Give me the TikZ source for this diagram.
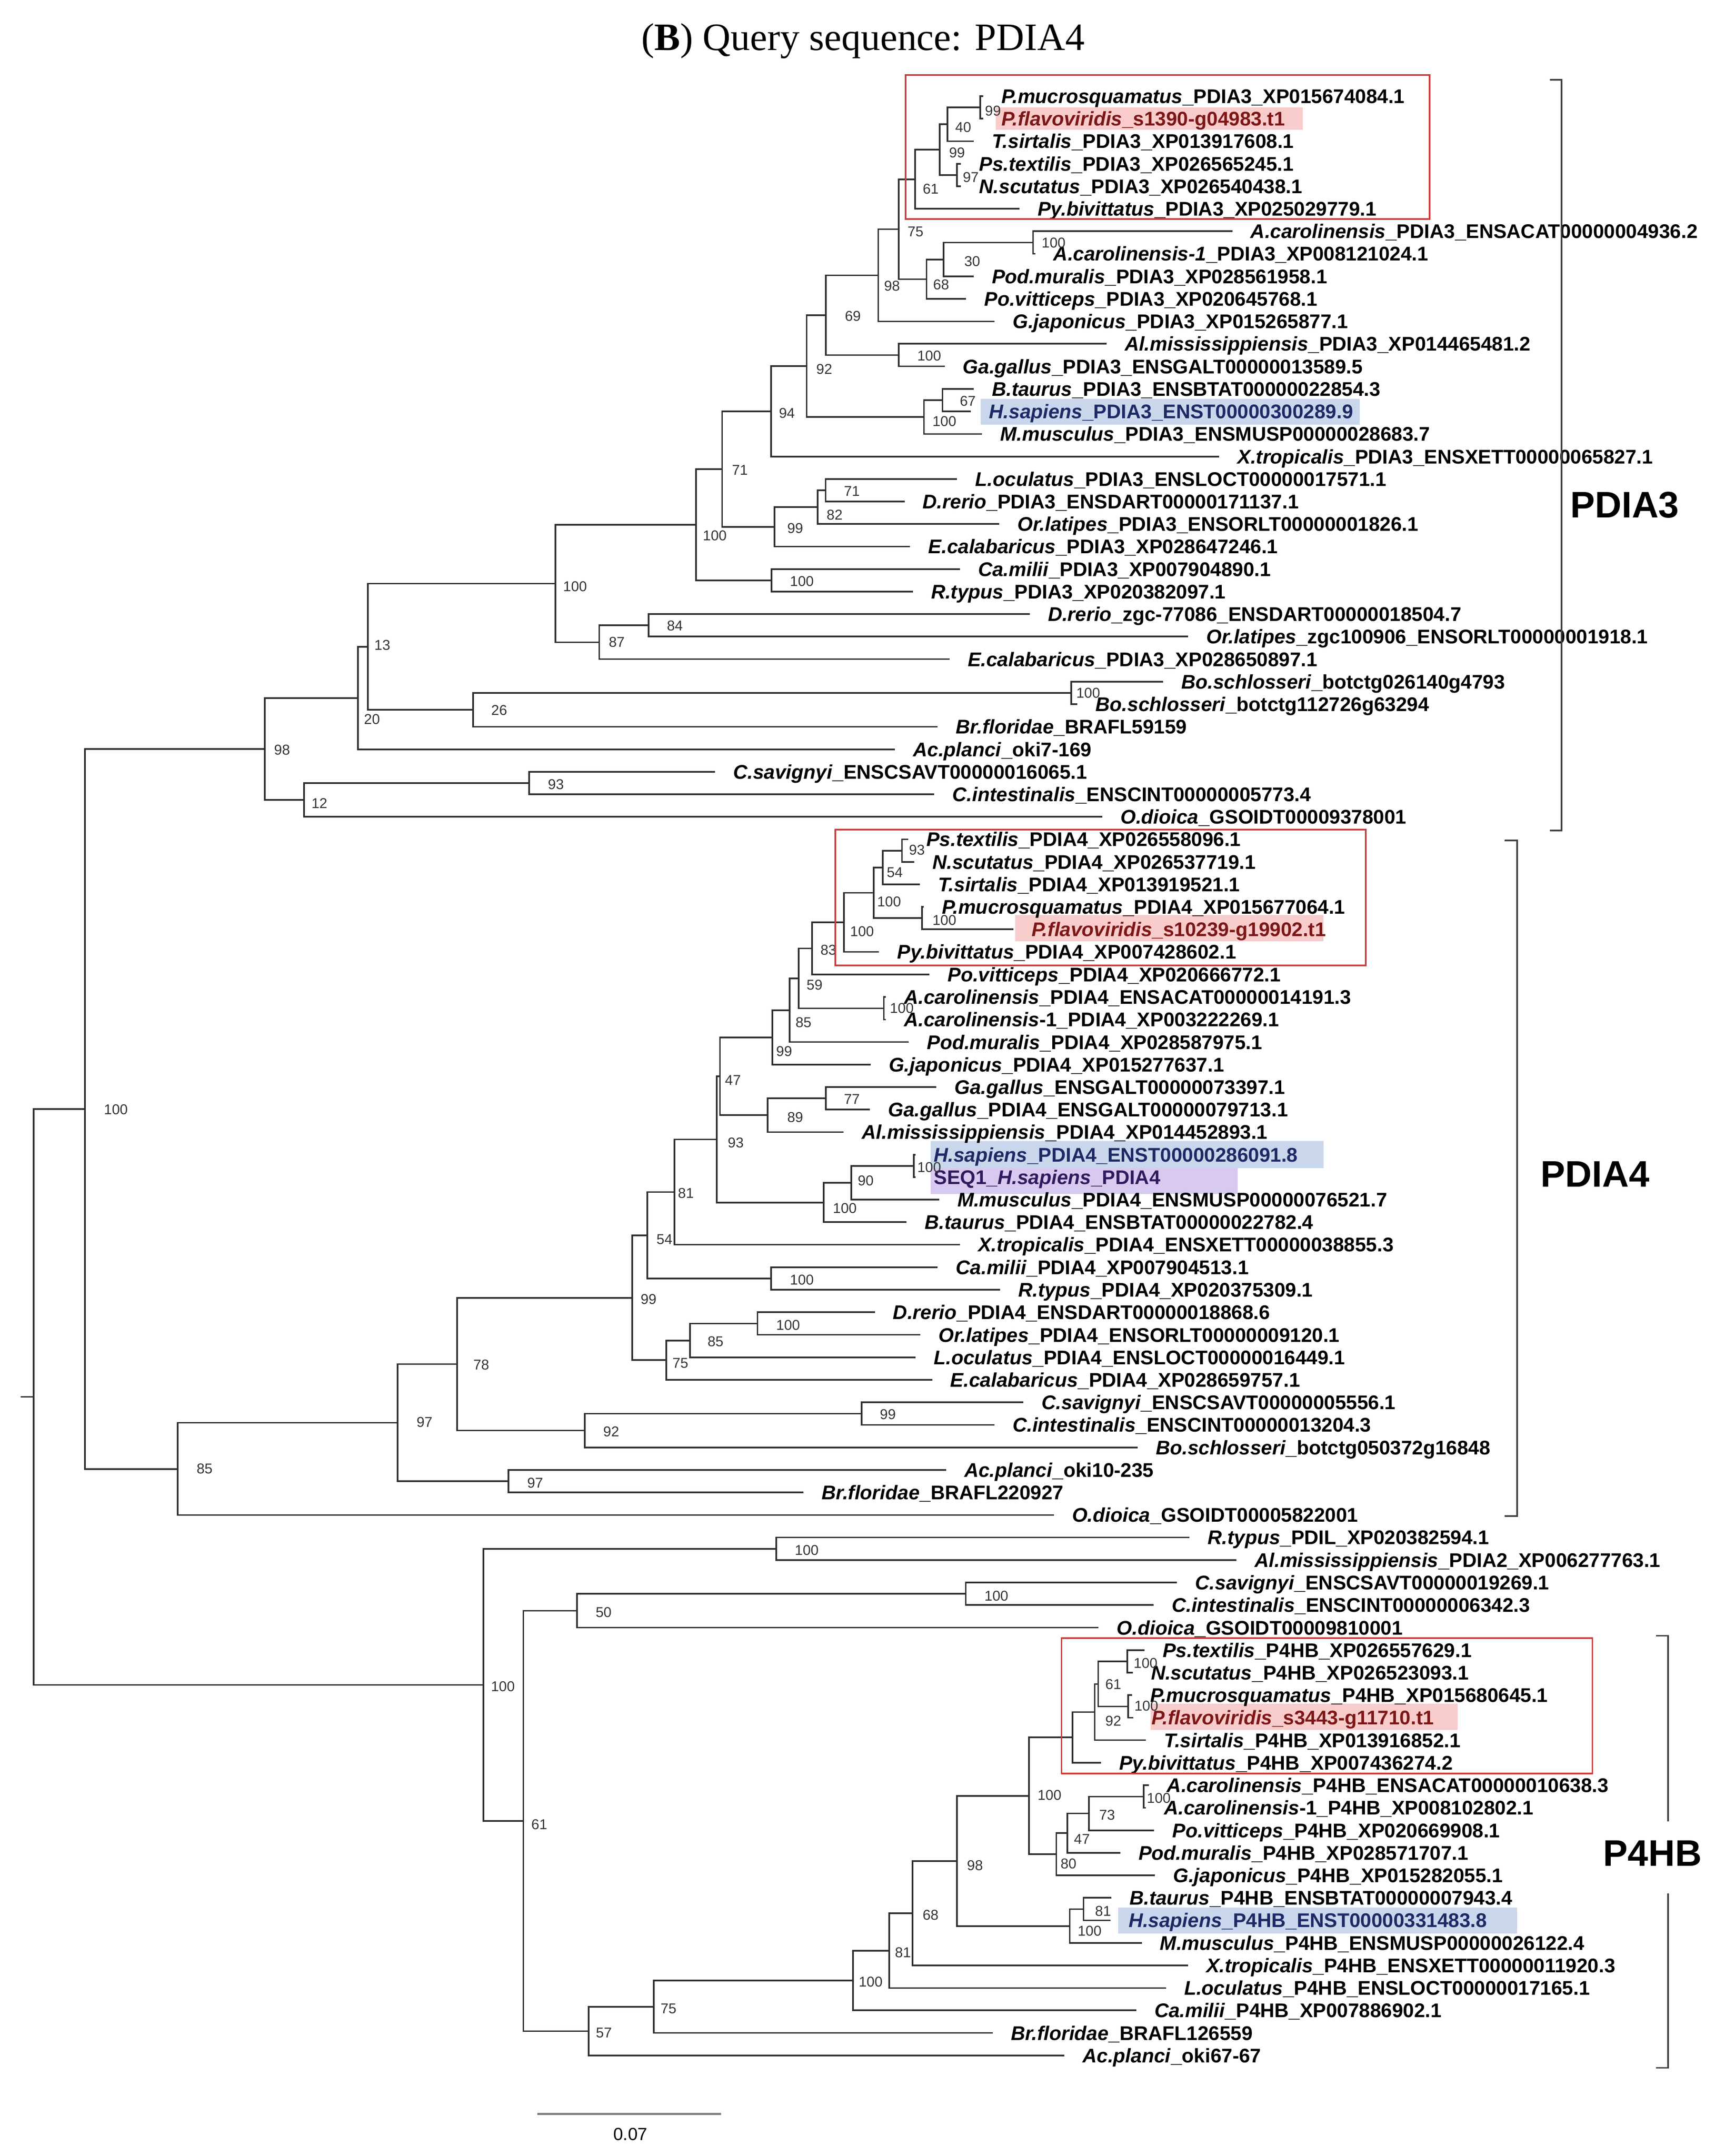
\documentclass[tikz,border=0pt]{standalone}
\usepackage{fontspec}
\setmainfont{Liberation Sans}
\newfontfamily\titlefont{Liberation Serif}
\newcommand{\taxon}[1]{\textit{#1}}

\definecolor{pinkhl}{RGB}{249,204,204}
\definecolor{bluehl}{RGB}{201,214,236}
\definecolor{purplehl}{RGB}{216,201,240}
\definecolor{flavored}{RGB}{125,22,22}
\definecolor{sapblue}{RGB}{28,42,100}
\definecolor{seqpurple}{RGB}{48,26,92}
\definecolor{boxred}{RGB}{208,58,58}

\tikzset{
  branch/.style={draw=black!82, line width=1.15pt},
  leaf/.style={anchor=west, xshift=13pt, inner sep=0pt, text height=10.25pt, text depth=0pt,
    font=\fontsize{14.3}{16}\selectfont\bfseries},
  boot/.style={anchor=west, inner sep=0pt, text height=7.4pt, text depth=0pt, text=black!80,
    font=\fontsize{10.3}{12}\selectfont},
  clade/.style={inner sep=0pt, text height=19.1pt, text depth=0pt,
    font=\fontsize{26.7}{30}\selectfont\bfseries},
  redbox/.style={draw=boxred, line width=1.2pt},
  bracket/.style={draw=black!75, line width=1.2pt},
}

\begin{document}
\begin{tikzpicture}[x=1pt,y=-1pt]
\useasboundingbox (0,0) rectangle (1247,1559);

\node[inner sep=0pt, text height=18.5pt, text depth=0pt, font=\titlefont\fontsize{28}{32}\selectfont] (title) at (624,27) {(\textbf{B}) Query sequence: PDIA4};

% highlights behind the names
\fill[pinkhl] (720,77.6) rectangle (941.8,94);
\fill[bluehl] (709,288.5) rectangle (983,307);
\fill[pinkhl] (734,661.5) rectangle (956.8,680.5);
\fill[bluehl] (673,825) rectangle (956.8,844.6);
\fill[purplehl] (673,844.6) rectangle (895,863.4);
\fill[pinkhl] (832,1232) rectangle (1053.8,1251);
\fill[bluehl] (808.6,1379.5) rectangle (1096.8,1398);

% inner nodes, PDIA3
\coordinate (n99c) at (708.7,77.7);
\coordinate (n40) at (685,89.9);
\coordinate (n97a) at (691.9,126.5);
\coordinate (n99b) at (679.5,108.2);
\coordinate (n61a) at (661.6,129.6);
\coordinate (n100f) at (746.9,175.4);
\coordinate (n30) at (682.3,187.6);
\coordinate (n68a) at (669.9,201.9);
\coordinate (n75a) at (649.8,165.7);
\coordinate (n98b) at (635,199.1);
\coordinate (n100g) at (649.8,256.8);
\coordinate (n69) at (597,228.0);
\coordinate (n67) at (681.4,289.4);
\coordinate (n100h) at (668,301.6);
\coordinate (n92a) at (583.2,264.8);
\coordinate (n94) at (557.5,297.5);
\coordinate (n71b) at (596.9,354.5);
\coordinate (n82) at (591.2,366.7);
\coordinate (n99a) at (560,381.0);
\coordinate (n71a) at (522.1,339.2);
\coordinate (n100d) at (557.9,419.7);
\coordinate (n100c) at (503.3,379.5);
\coordinate (n84) at (469,452.2);
\coordinate (n87) at (433.2,464.4);
\coordinate (n100b) at (401.7,422.0);
\coordinate (n100e) at (774.5,501.1);
\coordinate (n26) at (342,513.3);
\coordinate (n13) at (265.9,467.6);
\coordinate (n20) at (258.7,504.7);
\coordinate (n93a) at (382.6,566.2);
\coordinate (n12) at (219.8,578.4);
\coordinate (n98a) at (191.4,541.6);

% inner nodes, PDIA4
\coordinate (n93b) at (652.1,615.1);
\coordinate (n54a) at (638.3,627.3);
\coordinate (n100j) at (666.6,663.9);
\coordinate (n100i) at (631.6,645.6);
\coordinate (n100k) at (610.2,667.0);
\coordinate (n83) at (587.1,685.8);
\coordinate (n100l) at (639,729.1);
\coordinate (n59) at (577.5,707.5);
\coordinate (n85a) at (570.9,730.5);
\coordinate (n99d) at (558.4,750.2);
\coordinate (n77) at (597,794.2);
\coordinate (n89) at (555,806.4);
\coordinate (n47a) at (520.5,778.3);
\coordinate (n100n) at (660.6,843.1);
\coordinate (n90) at (615.4,855.3);
\coordinate (n100m) at (595.6,869.5);
\coordinate (n93c) at (518.3,823.9);
\coordinate (n81a) at (487.7,862.0);
\coordinate (n100o) at (557.6,924.5);
\coordinate (n54b) at (467.9,893.2);
\coordinate (n100p) at (547.7,957.1);
\coordinate (n85b) at (498.9,969.3);
\coordinate (n75b) at (481.7,983.5);
\coordinate (n99e) at (457,938.4);
\coordinate (n99f) at (623,1022.2);
\coordinate (n92b) at (422.8,1034.4);
\coordinate (n78) at (330.4,986.4);
\coordinate (n97c) at (367.7,1071.1);
\coordinate (n97b) at (287.4,1028.8);
\coordinate (n85c) at (128.4,1062.2);
\coordinate (n100a) at (61.4,801.9);

% inner nodes, P4HB side
\coordinate (n100r) at (561.2,1119.9);
\coordinate (n100s) at (698.3,1152.5);
\coordinate (n50) at (417.2,1164.7);
\coordinate (n100w) at (815,1201.4);
\coordinate (n100x) at (815.6,1233.9);
\coordinate (n61c) at (794,1217.7);
\coordinate (n92c) at (791.5,1238.0);
\coordinate (nsnk) at (775.4,1256.3);
\coordinate (n100y) at (826.8,1299.1);
\coordinate (n73) at (787.2,1311.3);
\coordinate (n47b) at (771.6,1325.5);
\coordinate (n80) at (763.7,1340.8);
\coordinate (n100u) at (744,1298.6);
\coordinate (n81c) at (783.4,1380.5);
\coordinate (n100v) at (773.4,1392.7);
\coordinate (n98c) at (691.8,1345.7);
\coordinate (n68b) at (659.7,1383.5);
\coordinate (n81b) at (643,1410.5);
\coordinate (n100t) at (616.8,1432.1);
\coordinate (n75c) at (472.6,1451.1);
\coordinate (n57) at (425.6,1468.7);
\coordinate (n61b) at (378.4,1316.7);
\coordinate (n100q) at (349.6,1218.3);
\coordinate (root) at (24.3,1010.1);
\coordinate (stub) at (15,1010.1);

% tips and names
\coordinate (t0) at (711,69.5); \node[leaf] (s0) at (t0) {\taxon{P.mucrosquamatus}\_PDIA3\_XP015674084.1};
\coordinate (t1) at (711,85.8); \node[leaf,text=flavored] (s1) at (t1) {\taxon{P.flavoviridis}\_s1390-g04983.t1};
\coordinate (t2) at (704,102.1); \node[leaf] (s2) at (t2) {\taxon{T.sirtalis}\_PDIA3\_XP013917608.1};
\coordinate (t3) at (694.8,118.4); \node[leaf] (s3) at (t3) {\taxon{Ps.textilis}\_PDIA3\_XP026565245.1};
\coordinate (t4) at (694.8,134.6); \node[leaf] (s4) at (t4) {\taxon{N.scutatus}\_PDIA3\_XP026540438.1};
\coordinate (t5) at (737,150.9); \node[leaf] (s5) at (t5) {\taxon{Py.bivittatus}\_PDIA3\_XP025029779.1};
\coordinate (t6) at (891,167.2); \node[leaf] (s6) at (t6) {\taxon{A.carolinensis}\_PDIA3\_ENSACAT00000004936.2};
\coordinate (t7) at (748.5,183.5); \node[leaf] (s7) at (t7) {\taxon{A.carolinensis-1}\_PDIA3\_XP008121024.1};
\coordinate (t8) at (704,199.8); \node[leaf] (s8) at (t8) {\taxon{Pod.muralis}\_PDIA3\_XP028561958.1};
\coordinate (t9) at (698.5,216.1); \node[leaf] (s9) at (t9) {\taxon{Po.vitticeps}\_PDIA3\_XP020645768.1};
\coordinate (t10) at (719,232.4); \node[leaf] (s10) at (t10) {\taxon{G.japonicus}\_PDIA3\_XP015265877.1};
\coordinate (t11) at (800,248.6); \node[leaf] (s11) at (t11) {\taxon{Al.mississippiensis}\_PDIA3\_XP014465481.2};
\coordinate (t12) at (683,264.9); \node[leaf] (s12) at (t12) {\taxon{Ga.gallus}\_PDIA3\_ENSGALT00000013589.5};
\coordinate (t13) at (704,281.2); \node[leaf] (s13) at (t13) {\taxon{B.taurus}\_PDIA3\_ENSBTAT00000022854.3};
\coordinate (t14) at (702,297.5); \node[leaf,text=sapblue] (s14) at (t14) {\taxon{H.sapiens}\_PDIA3\_ENST00000300289.9};
\coordinate (t15) at (710,313.8); \node[leaf] (s15) at (t15) {\taxon{M.musculus}\_PDIA3\_ENSMUSP00000028683.7};
\coordinate (t16) at (881.5,330.1); \node[leaf] (s16) at (t16) {\taxon{X.tropicalis}\_PDIA3\_ENSXETT00000065827.1};
\coordinate (t17) at (692,346.3); \node[leaf] (s17) at (t17) {\taxon{L.oculatus}\_PDIA3\_ENSLOCT00000017571.1};
\coordinate (t18) at (654,362.6); \node[leaf] (s18) at (t18) {\taxon{D.rerio}\_PDIA3\_ENSDART00000171137.1};
\coordinate (t19) at (722.5,378.9); \node[leaf] (s19) at (t19) {\taxon{Or.latipes}\_PDIA3\_ENSORLT00000001826.1};
\coordinate (t20) at (658,395.2); \node[leaf] (s20) at (t20) {\taxon{E.calabaricus}\_PDIA3\_XP028647246.1};
\coordinate (t21) at (694,411.5); \node[leaf] (s21) at (t21) {\taxon{Ca.milii}\_PDIA3\_XP007904890.1};
\coordinate (t22) at (660,427.8); \node[leaf] (s22) at (t22) {\taxon{R.typus}\_PDIA3\_XP020382097.1};
\coordinate (t23) at (744.5,444.1); \node[leaf] (s23) at (t23) {\taxon{D.rerio}\_zgc-77086\_ENSDART00000018504.7};
\coordinate (t24) at (859,460.3); \node[leaf] (s24) at (t24) {\taxon{Or.latipes}\_zgc100906\_ENSORLT00000001918.1};
\coordinate (t25) at (686.5,476.6); \node[leaf] (s25) at (t25) {\taxon{E.calabaricus}\_PDIA3\_XP028650897.1};
\coordinate (t26) at (841,492.9); \node[leaf] (s26) at (t26) {\taxon{Bo.schlosseri}\_botctg026140g4793};
\coordinate (t27) at (779,509.2); \node[leaf] (s27) at (t27) {\taxon{Bo.schlosseri}\_botctg112726g63294};
\coordinate (t28) at (678,525.5); \node[leaf] (s28) at (t28) {\taxon{Br.floridae}\_BRAFL59159};
\coordinate (t29) at (647,541.8); \node[leaf] (s29) at (t29) {\taxon{Ac.planci}\_oki7-169};
\coordinate (t30) at (517,558.1); \node[leaf] (s30) at (t30) {\taxon{C.savignyi}\_ENSCSAVT00000016065.1};
\coordinate (t31) at (675.5,574.3); \node[leaf] (s31) at (t31) {\taxon{C.intestinalis}\_ENSCINT00000005773.4};
\coordinate (t32) at (797,590.6); \node[leaf] (s32) at (t32) {\taxon{O.dioica}\_GSOIDT00009378001};
\coordinate (t33) at (656.6,606.9); \node[leaf] (s33) at (t33) {\taxon{Ps.textilis}\_PDIA4\_XP026558096.1};
\coordinate (t34) at (661,623.2); \node[leaf] (s34) at (t34) {\taxon{N.scutatus}\_PDIA4\_XP026537719.1};
\coordinate (t35) at (665,639.5); \node[leaf] (s35) at (t35) {\taxon{T.sirtalis}\_PDIA4\_XP013919521.1};
\coordinate (t36) at (668,655.8); \node[leaf] (s36) at (t36) {\taxon{P.mucrosquamatus}\_PDIA4\_XP015677064.1};
\coordinate (t37) at (732.7,672.0); \node[leaf,text=flavored] (s37) at (t37) {\taxon{P.flavoviridis}\_s10239-g19902.t1};
\coordinate (t38) at (635.5,688.3); \node[leaf] (s38) at (t38) {\taxon{Py.bivittatus}\_PDIA4\_XP007428602.1};
\coordinate (t39) at (672,704.6); \node[leaf] (s39) at (t39) {\taxon{Po.vitticeps}\_PDIA4\_XP020666772.1};
\coordinate (t40) at (640.5,720.9); \node[leaf] (s40) at (t40) {\taxon{A.carolinensis}\_PDIA4\_ENSACAT00000014191.3};
\coordinate (t41) at (640.5,737.2); \node[leaf] (s41) at (t41) {\taxon{A.carolinensis}-1\_PDIA4\_XP003222269.1};
\coordinate (t42) at (657,753.5); \node[leaf] (s42) at (t42) {\taxon{Pod.muralis}\_PDIA4\_XP028587975.1};
\coordinate (t43) at (629.5,769.8); \node[leaf] (s43) at (t43) {\taxon{G.japonicus}\_PDIA4\_XP015277637.1};
\coordinate (t44) at (677,786.0); \node[leaf] (s44) at (t44) {\taxon{Ga.gallus}\_ENSGALT00000073397.1};
\coordinate (t45) at (629,802.3); \node[leaf] (s45) at (t45) {\taxon{Ga.gallus}\_PDIA4\_ENSGALT00000079713.1};
\coordinate (t46) at (610,818.6); \node[leaf] (s46) at (t46) {\taxon{Al.mississippiensis}\_PDIA4\_XP014452893.1};
\coordinate (t47) at (662,834.9); \node[leaf,text=sapblue] (s47) at (t47) {\taxon{H.sapiens}\_PDIA4\_ENST00000286091.8};
\coordinate (t48) at (662,851.2); \node[leaf,text=seqpurple] (s48) at (t48) {SEQ1\_\taxon{H.sapiens}\_PDIA4};
\coordinate (t49) at (679,867.5); \node[leaf] (s49) at (t49) {\taxon{M.musculus}\_PDIA4\_ENSMUSP00000076521.7};
\coordinate (t50) at (655.5,883.7); \node[leaf] (s50) at (t50) {\taxon{B.taurus}\_PDIA4\_ENSBTAT00000022782.4};
\coordinate (t51) at (694,900.0); \node[leaf] (s51) at (t51) {\taxon{X.tropicalis}\_PDIA4\_ENSXETT00000038855.3};
\coordinate (t52) at (678,916.3); \node[leaf] (s52) at (t52) {\taxon{Ca.milii}\_PDIA4\_XP007904513.1};
\coordinate (t53) at (723,932.6); \node[leaf] (s53) at (t53) {\taxon{R.typus}\_PDIA4\_XP020375309.1};
\coordinate (t54) at (632.5,948.9); \node[leaf] (s54) at (t54) {\taxon{D.rerio}\_PDIA4\_ENSDART00000018868.6};
\coordinate (t55) at (665.5,965.2); \node[leaf] (s55) at (t55) {\taxon{Or.latipes}\_PDIA4\_ENSORLT00000009120.1};
\coordinate (t56) at (662,981.5); \node[leaf] (s56) at (t56) {\taxon{L.oculatus}\_PDIA4\_ENSLOCT00000016449.1};
\coordinate (t57) at (674,997.7); \node[leaf] (s57) at (t57) {\taxon{E.calabaricus}\_PDIA4\_XP028659757.1};
\coordinate (t58) at (740,1014.0); \node[leaf] (s58) at (t58) {\taxon{C.savignyi}\_ENSCSAVT00000005556.1};
\coordinate (t59) at (719,1030.3); \node[leaf] (s59) at (t59) {\taxon{C.intestinalis}\_ENSCINT00000013204.3};
\coordinate (t60) at (822.5,1046.6); \node[leaf] (s60) at (t60) {\taxon{Bo.schlosseri}\_botctg050372g16848};
\coordinate (t61) at (684,1062.9); \node[leaf] (s61) at (t61) {\taxon{Ac.planci}\_oki10-235};
\coordinate (t62) at (581,1079.2); \node[leaf] (s62) at (t62) {\taxon{Br.floridae}\_BRAFL220927};
\coordinate (t63) at (762,1095.5); \node[leaf] (s63) at (t63) {\taxon{O.dioica}\_GSOIDT00005822001};
\coordinate (t64) at (860,1111.7); \node[leaf] (s64) at (t64) {\taxon{R.typus}\_PDIL\_XP020382594.1};
\coordinate (t65) at (894,1128.0); \node[leaf] (s65) at (t65) {\taxon{Al.mississippiensis}\_PDIA2\_XP006277763.1};
\coordinate (t66) at (851,1144.3); \node[leaf] (s66) at (t66) {\taxon{C.savignyi}\_ENSCSAVT00000019269.1};
\coordinate (t67) at (834,1160.6); \node[leaf] (s67) at (t67) {\taxon{C.intestinalis}\_ENSCINT00000006342.3};
\coordinate (t68) at (794.3,1176.9); \node[leaf] (s68) at (t68) {\taxon{O.dioica}\_GSOIDT00009810001};
\coordinate (t69) at (827.5,1193.2); \node[leaf] (s69) at (t69) {\taxon{Ps.textilis}\_P4HB\_XP026557629.1};
\coordinate (t70) at (819,1209.5); \node[leaf] (s70) at (t70) {\taxon{N.scutatus}\_P4HB\_XP026523093.1};
\coordinate (t71) at (818.5,1225.7); \node[leaf] (s71) at (t71) {\taxon{P.mucrosquamatus}\_P4HB\_XP015680645.1};
\coordinate (t72) at (819.5,1242.0); \node[leaf,text=flavored] (s72) at (t72) {\taxon{P.flavoviridis}\_s3443-g11710.t1};
\coordinate (t73) at (828.5,1258.3); \node[leaf] (s73) at (t73) {\taxon{T.sirtalis}\_P4HB\_XP013916852.1};
\coordinate (t74) at (796,1274.6); \node[leaf] (s74) at (t74) {\taxon{Py.bivittatus}\_P4HB\_XP007436274.2};
\coordinate (t75) at (830.5,1290.9); \node[leaf] (s75) at (t75) {\taxon{A.carolinensis}\_P4HB\_ENSACAT00000010638.3};
\coordinate (t76) at (828.5,1307.2); \node[leaf] (s76) at (t76) {\taxon{A.carolinensis}-1\_P4HB\_XP008102802.1};
\coordinate (t77) at (834.5,1323.5); \node[leaf] (s77) at (t77) {\taxon{Po.vitticeps}\_P4HB\_XP020669908.1};
\coordinate (t78) at (810,1339.7); \node[leaf] (s78) at (t78) {\taxon{Pod.muralis}\_P4HB\_XP028571707.1};
\coordinate (t79) at (835,1356.0); \node[leaf] (s79) at (t79) {\taxon{G.japonicus}\_P4HB\_XP015282055.1};
\coordinate (t80) at (803.5,1372.3); \node[leaf] (s80) at (t80) {\taxon{B.taurus}\_P4HB\_ENSBTAT00000007943.4};
\coordinate (t81) at (802.8,1388.6); \node[leaf,text=sapblue] (s81) at (t81) {\taxon{H.sapiens}\_P4HB\_ENST00000331483.8};
\coordinate (t82) at (825.5,1404.9); \node[leaf] (s82) at (t82) {\taxon{M.musculus}\_P4HB\_ENSMUSP00000026122.4};
\coordinate (t83) at (859,1421.2); \node[leaf] (s83) at (t83) {\taxon{X.tropicalis}\_P4HB\_ENSXETT00000011920.3};
\coordinate (t84) at (843,1437.5); \node[leaf] (s84) at (t84) {\taxon{L.oculatus}\_P4HB\_ENSLOCT00000017165.1};
\coordinate (t85) at (821.5,1453.7); \node[leaf] (s85) at (t85) {\taxon{Ca.milii}\_P4HB\_XP007886902.1};
\coordinate (t86) at (717.7,1470.0); \node[leaf] (s86) at (t86) {\taxon{Br.floridae}\_BRAFL126559};
\coordinate (t87) at (769.6,1486.3); \node[leaf] (s87) at (t87) {\taxon{Ac.planci}\_oki67-67};

% branches
\draw[branch] (stub) -- (root) (root) |- (n100a) (root) |- (n100q);
\draw[branch] (n100a) |- (n98a) (n100a) |- (n85c);
\draw[branch] (n98a) |- (n20) (n98a) |- (n12);
\draw[branch] (n20) |- (n13) (n20) |- (t29);
\draw[branch] (n13) |- (n100b) (n13) |- (n26);
\draw[branch] (n26) |- (n100e) (n26) |- (t28);
\draw[branch] (n100e) |- (t26) (n100e) |- (t27);
\draw[branch] (n12) |- (n93a) (n12) |- (t32);
\draw[branch] (n93a) |- (t30) (n93a) |- (t31);
\draw[branch] (n100b) |- (n100c) (n100b) |- (n87);
\draw[branch] (n87) |- (n84) (n87) |- (t25);
\draw[branch] (n84) |- (t23) (n84) |- (t24);
\draw[branch] (n100c) |- (n71a) (n100c) |- (n100d);
\draw[branch] (n100d) |- (t21) (n100d) |- (t22);
\draw[branch] (n71a) |- (n94) (n71a) |- (n99a);
\draw[branch] (n99a) |- (n82) (n99a) |- (t20);
\draw[branch] (n82) |- (n71b) (n82) |- (t19);
\draw[branch] (n71b) |- (t17) (n71b) |- (t18);
\draw[branch] (n94) |- (n92a) (n94) |- (t16);
\draw[branch] (n92a) |- (n69) (n92a) |- (n100h);
\draw[branch] (n100h) |- (n67) (n100h) |- (t15);
\draw[branch] (n67) |- (t13) (n67) |- (t14);
\draw[branch] (n69) |- (n98b) (n69) |- (n100g);
\draw[branch] (n100g) |- (t11) (n100g) |- (t12);
\draw[branch] (n98b) |- (n75a) (n98b) |- (t10);
\draw[branch] (n75a) |- (n61a) (n75a) |- (n68a);
\draw[branch] (n68a) |- (n30) (n68a) |- (t9);
\draw[branch] (n30) |- (n100f) (n30) |- (t8);
\draw[branch] (n100f) |- (t6) (n100f) |- (t7);
\draw[branch] (n61a) |- (n99b) (n61a) |- (t5);
\draw[branch] (n99b) |- (n40) (n99b) |- (n97a);
\draw[branch] (n97a) |- (t3) (n97a) |- (t4);
\draw[branch] (n40) |- (n99c) (n40) |- (t2);
\draw[branch] (n99c) |- (t0) (n99c) |- (t1);
\draw[branch] (n85c) |- (n97b) (n85c) |- (t63);
\draw[branch] (n97b) |- (n78) (n97b) |- (n97c);
\draw[branch] (n97c) |- (t61) (n97c) |- (t62);
\draw[branch] (n78) |- (n99e) (n78) |- (n92b);
\draw[branch] (n92b) |- (n99f) (n92b) |- (t60);
\draw[branch] (n99f) |- (t58) (n99f) |- (t59);
\draw[branch] (n99e) |- (n54b) (n99e) |- (n75b);
\draw[branch] (n75b) |- (n85b) (n75b) |- (t57);
\draw[branch] (n85b) |- (n100p) (n85b) |- (t56);
\draw[branch] (n100p) |- (t54) (n100p) |- (t55);
\draw[branch] (n54b) |- (n81a) (n54b) |- (n100o);
\draw[branch] (n100o) |- (t52) (n100o) |- (t53);
\draw[branch] (n81a) |- (n93c) (n81a) |- (t51);
\draw[branch] (n93c) |- (n47a) (n93c) |- (n100m);
\draw[branch] (n100m) |- (n90) (n100m) |- (t50);
\draw[branch] (n90) |- (n100n) (n90) |- (t49);
\draw[branch] (n100n) |- (t47) (n100n) |- (t48);
\draw[branch] (n47a) |- (n99d) (n47a) |- (n89);
\draw[branch] (n89) |- (n77) (n89) |- (t46);
\draw[branch] (n77) |- (t44) (n77) |- (t45);
\draw[branch] (n99d) |- (n85a) (n99d) |- (t43);
\draw[branch] (n85a) |- (n59) (n85a) |- (t42);
\draw[branch] (n59) |- (n83) (n59) |- (n100l);
\draw[branch] (n100l) |- (t40) (n100l) |- (t41);
\draw[branch] (n83) |- (n100k) (n83) |- (t39);
\draw[branch] (n100k) |- (n100i) (n100k) |- (t38);
\draw[branch] (n100i) |- (n54a) (n100i) |- (n100j);
\draw[branch] (n100j) |- (t36) (n100j) |- (t37);
\draw[branch] (n54a) |- (n93b) (n54a) |- (t35);
\draw[branch] (n93b) |- (t33) (n93b) |- (t34);
\draw[branch] (n100q) |- (n100r) (n100q) |- (n61b);
\draw[branch] (n100r) |- (t64) (n100r) |- (t65);
\draw[branch] (n61b) |- (n50) (n61b) |- (n57);
\draw[branch] (n50) |- (n100s) (n50) |- (t68);
\draw[branch] (n100s) |- (t66) (n100s) |- (t67);
\draw[branch] (n57) |- (n75c) (n57) |- (t87);
\draw[branch] (n75c) |- (n100t) (n75c) |- (t86);
\draw[branch] (n100t) |- (n81b) (n100t) |- (t85);
\draw[branch] (n81b) |- (n68b) (n81b) |- (t84);
\draw[branch] (n68b) |- (n98c) (n68b) |- (t83);
\draw[branch] (n98c) |- (n100u) (n98c) |- (n100v);
\draw[branch] (n100v) |- (n81c) (n100v) |- (t82);
\draw[branch] (n81c) |- (t80) (n81c) |- (t81);
\draw[branch] (n100u) |- (nsnk) (n100u) |- (n80);
\draw[branch] (n80) |- (n47b) (n80) |- (t79);
\draw[branch] (n47b) |- (n73) (n47b) |- (t78);
\draw[branch] (n73) |- (n100y) (n73) |- (t77);
\draw[branch] (n100y) |- (t75) (n100y) |- (t76);
\draw[branch] (nsnk) |- (n92c) (nsnk) |- (t74);
\draw[branch] (n92c) |- (n61c) (n92c) |- (t73);
\draw[branch] (n61c) |- (n100w) (n61c) |- (n100x);
\draw[branch] (n100x) |- (t71) (n100x) |- (t72);
\draw[branch] (n100w) |- (t69) (n100w) |- (t70);

% bootstrap values
\node[boot] (b1) at (712,80) {99};
\node[boot] (b2) at (690.5,92) {40};
\node[boot] (b3) at (686,110.3) {99};
\node[boot] (b4) at (696,128.1) {97};
\node[boot] (b5) at (667,136.6) {61};
\node[boot] (b6) at (656,167.2) {75};
\node[boot] (b7) at (753,175.5) {100};
\node[boot] (b8) at (697,188.8) {30};
\node[boot] (b9) at (674.5,205.7) {68};
\node[boot] (b10) at (639,206.6) {98};
\node[boot] (b11) at (610.7,228.3) {69};
\node[boot] (b12) at (663,257) {100};
\node[boot] (b13) at (590,266.8) {92};
\node[boot] (b14) at (693.8,290) {67};
\node[boot] (b15) at (674,304.4) {100};
\node[boot] (b16) at (563,298.5) {94};
\node[boot] (b17) at (529,339.6) {71};
\node[boot] (b18) at (508,387) {100};
\node[boot] (b19) at (569,381.8) {99};
\node[boot] (b20) at (597.5,372.2) {82};
\node[boot] (b21) at (610,355) {71};
\node[boot] (b22) at (571,420.3) {100};
\node[boot] (b23) at (407,424) {100};
\node[boot] (b24) at (440,464.3) {87};
\node[boot] (b25) at (482,452.4) {84};
\node[boot] (b26) at (778,501) {100};
\node[boot] (b27) at (355,513.4) {26};
\node[boot] (b28) at (270.5,466.4) {13};
\node[boot] (b29) at (263,519.9) {20};
\node[boot] (b30) at (198,542.1) {98};
\node[boot] (b31) at (225,580.8) {12};
\node[boot] (b32) at (396,567) {93};
\node[boot] (b33) at (75,802) {100};
\node[boot] (b34) at (657,614.3) {93};
\node[boot] (b35) at (641,630.8) {54};
\node[boot] (b36) at (634,652) {100};
\node[boot] (b37) at (674,665.3) {100};
\node[boot] (b38) at (614.5,673.5) {100};
\node[boot] (b39) at (593,686.8) {83};
\node[boot] (b40) at (583,711.9) {59};
\node[boot] (b41) at (643.2,729) {100};
\node[boot] (b42) at (575,739) {85};
\node[boot] (b43) at (561,760) {99};
\node[boot] (b44) at (524,781) {47};
\node[boot] (b45) at (569,807.8) {89};
\node[boot] (b46) at (610,794.6) {77};
\node[boot] (b47) at (526,826.2) {93};
\node[boot] (b48) at (663,844) {100};
\node[boot] (b49) at (620,853.7) {90};
\node[boot] (b50) at (602,873.5) {100};
\node[boot] (b51) at (490,862.5) {81};
\node[boot] (b52) at (474.5,895.9) {54};
\node[boot] (b53) at (571,925.2) {100};
\node[boot] (b54) at (463,939.3) {99};
\node[boot] (b55) at (561,957.9) {100};
\node[boot] (b56) at (511.4,969.8) {85};
\node[boot] (b57) at (486,985.4) {75};
\node[boot] (b58) at (636,1022.6) {99};
\node[boot] (b59) at (436,1035) {92};
\node[boot] (b60) at (342,986.7) {78};
\node[boot] (b61) at (301,1028.3) {97};
\node[boot] (b62) at (381,1072) {97};
\node[boot] (b63) at (142,1062) {85};
\node[boot] (b64) at (574.5,1120.8) {100};
\node[boot] (b65) at (711.6,1153.7) {100};
\node[boot] (b66) at (430.5,1165.8) {50};
\node[boot] (b67) at (354.8,1219.4) {100};
\node[boot] (b68) at (384,1319) {61};
\node[boot] (b69) at (430.7,1469.7) {57};
\node[boot] (b70) at (477.4,1452.2) {75};
\node[boot] (b71) at (620.7,1432.8) {100};
\node[boot] (b72) at (646.9,1411.8) {81};
\node[boot] (b73) at (666.9,1384.5) {68};
\node[boot] (b74) at (699,1348.8) {98};
\node[boot] (b75) at (750,1298) {100};
\node[boot] (b76) at (829,1300) {100};
\node[boot] (b77) at (794.5,1312.1) {73};
\node[boot] (b78) at (776.3,1329.6) {47};
\node[boot] (b79) at (766.6,1347.5) {80};
\node[boot] (b80) at (779,1396) {100};
\node[boot] (b81) at (791.6,1381.7) {81};
\node[boot] (b82) at (819.5,1202.4) {100};
\node[boot] (b83) at (799,1217.8) {61};
\node[boot] (b84) at (820,1233.2) {100};
\node[boot] (b85) at (799,1244.2) {92};

% snake boxes
\draw[redbox] (654.8,54.3) rectangle (1033.5,158.5);
\draw[redbox] (604,600) rectangle (987.4,698.2);
\draw[redbox] (767.5,1184.5) rectangle (1151.3,1282.3);

% clade brackets
\draw[bracket] (1120.5,57.8) -- (1128.9,57.8) -- (1128.9,600.5) -- (1120.5,600.5);
\draw[bracket] (1088,607.8) -- (1096.8,607.8) -- (1096.8,1096.3) -- (1088,1096.3);
\draw[bracket] (1197.4,1182.8) -- (1205.9,1182.8) -- (1205.9,1317);
\draw[bracket] (1205.9,1369) -- (1205.9,1495.2) -- (1197.4,1495.2);
\node[clade] (cl3) at (1174.7,364.7) {PDIA3};
\node[clade] (cl4) at (1153.2,848.7) {PDIA4};
\node[clade] (clp) at (1194.8,1339.7) {P4HB};

% scale
\coordinate (sc1) at (388.4,1528.5);
\coordinate (sc2) at (521.3,1528.5);
\draw[draw=black!50, line width=1.5pt] (sc1) -- (sc2);
\node[inner sep=0pt, text height=9.1pt, text depth=0pt, font=\fontsize{12.7}{14}\selectfont] (scl) at (455.8,1543.2) {0.07};
\end{tikzpicture}
\end{document}
